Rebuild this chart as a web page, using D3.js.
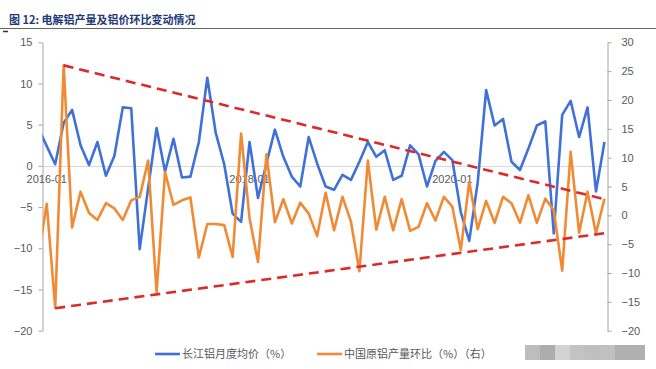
<!DOCTYPE html>
<html><head><meta charset="utf-8">
<script src="https://cdn.jsdelivr.net/npm/d3@7"></script>
<style>
html,body{margin:0;padding:0;background:#fff;}
svg{display:block;font-family:"Liberation Sans",Arial,"Noto Sans CJK SC",sans-serif;}
</style></head>
<body>
<svg id="c" width="656" height="369"></svg>
<script>
// ---- data ----
const title = "图 12: 电解铝产量及铝价环比变动情况";
const startMonth = "2015-12";
const priceMoM = [4.6,2.4,0.2,5.2,6.8,2.5,0.1,2.9,-1.2,1.2,7.1,7.0,-10.1,-2.7,4.6,-0.7,3.3,-1.4,-1.3,2.9,
  10.7,4.0,0.2,-5.8,-6.8,2.9,-3.9,0.3,4.4,1.1,-1.3,-2.5,3.5,0.3,-2.5,-2.9,-1.1,-1.7,0.5,2.9,
  1.1,1.9,-1.7,-1.2,2.5,1.4,-2.5,0.6,1.7,0.7,-5.6,-9.1,-2.0,9.2,4.9,5.7,0.5,-0.5,2.1,4.9,
  5.4,-8.2,6.2,7.9,3.5,7.1,-3.1,2.9];
const outputMoM = [-7.0,2.0,-16.0,26.0,-2.1,4.1,0.4,-0.8,2.1,1.2,-0.8,2.6,3.2,9.5,-13.3,7.5,1.8,2.6,3.1,-7.3,
  -1.5,-1.5,-1.7,-7.2,14.2,-0.5,-8.1,10.6,-1.2,2.8,-1.4,2.2,0.3,-3.6,3.9,-2.6,3.2,-1.1,-9.7,9.5,
  -2.5,3.2,-2.6,2.8,-2.7,-2.0,2.1,-0.9,3.2,1.5,-6.0,5.8,-2.4,2.5,-1.3,3.2,2.1,-1.3,3.5,-1.3,
  2.9,0.9,-9.6,11.0,-3.0,4.1,-3.1,2.9];
const xTickLabels = ["2016-01","2018-01","2020-01"];
const leftTicks = [15,10,5,0,-5,-10,-15,-20];
const rightTicks = [30,25,20,15,10,5,0,-5,-10,-15,-20];
// trend lines on right axis: [monthLabel, value]
const upperTrend = [["2016-03",26.0],["2021-07",2.8]];
const lowerTrend = [["2016-02",-16.1],["2021-07",-3.1]];
const legendNames = ["长江铝月度均价（%）","中国原铝产量环比（%）（右）"];
const watermarkShades = ["#bdbdbd","#adadad","#d3d3d3","#c3c3c3","#bfbfbf","#c0c0c0","#b0b0b0","#b0b0b0"];

const fmt = d3.timeFormat("%Y-%m");
const start = d3.timeParse("%Y-%m")(startMonth);
const months = d3.range(priceMoM.length).map(i => fmt(d3.timeMonth.offset(start, i)));

// ---- layout ----
const svg = d3.select("#c");
const plotL = 42.5, plotR = 607.5, plotT = 42.3, plotB = 330.7;
const x = d3.scalePoint().domain(months).range([38.3, 604.45]);
const yL = d3.scaleLinear().domain([-20,15]).range([plotB, plotT]);
const yR = d3.scaleLinear().domain([-20,30]).range([plotB, plotT]);

const blue = "#3f71d6", orange = "#f08a35", red = "#dc2a2a", grey = "#595959", axisGrey = "#a6a6a6";

// title
svg.append("text").attr("x", 9).attr("y", 24).attr("font-size", 11).attr("font-weight", "bold")
  .attr("font-family", "'Noto Sans CJK SC',sans-serif").attr("fill", "#1f3a78").text(title);
svg.append("line").attr("x1", 0).attr("x2", 656).attr("y1", 28.5).attr("y2", 28.5)
  .attr("stroke", "#666").attr("stroke-width", 1);
svg.append("line").attr("x1", 3).attr("x2", 8).attr("y1", 31.5).attr("y2", 31.5)
  .attr("stroke", "#333").attr("stroke-width", 1.5);

// zero gridline
svg.append("line").attr("x1", plotL).attr("x2", plotR).attr("y1", Math.round(yL(0))+0.5).attr("y2", Math.round(yL(0))+0.5)
  .attr("stroke", "#d9d9d9").attr("stroke-width", 1);

// axes
const la = svg.append("g").attr("transform", `translate(${plotL},0)`)
  .call(d3.axisLeft(yL).tickValues(leftTicks).tickSize(4).tickSizeOuter(0).tickPadding(6));
const ra = svg.append("g").attr("transform", `translate(${plotR},0)`)
  .call(d3.axisRight(yR).tickValues(rightTicks).tickSize(4).tickSizeOuter(0).tickPadding(10));
[la, ra].forEach(g => {
  g.select(".domain").attr("stroke", axisGrey);
  g.selectAll(".tick line").attr("stroke", axisGrey);
  g.selectAll(".tick text").attr("fill", grey).attr("font-size", 11)
    .attr("font-family", "'Liberation Sans',Arial,sans-serif");
});

// x tick labels
svg.append("g").selectAll("text").data(xTickLabels).join("text")
  .attr("x", d => x(d)).attr("y", yL(0) + 17).attr("text-anchor", "middle")
  .attr("font-size", 11).attr("fill", grey).attr("font-family", "'Liberation Sans',Arial,sans-serif")
  .text(d => d);

// clip
svg.append("clipPath").attr("id", "clip").append("rect")
  .attr("x", plotL).attr("y", 0).attr("width", plotR - plotL).attr("height", 369);

const plot = svg.append("g").attr("clip-path", "url(#clip)");
const lineL = d3.line().x((d, i) => x(months[i])).y(d => yL(d));
const lineR = d3.line().x((d, i) => x(months[i])).y(d => yR(d));

plot.append("path").datum(priceMoM).attr("d", lineL).attr("fill", "none")
  .attr("stroke", blue).attr("stroke-width", 2.6).attr("stroke-linejoin", "round");
plot.append("path").datum(outputMoM).attr("d", lineR).attr("fill", "none")
  .attr("stroke", orange).attr("stroke-width", 2.6).attr("stroke-linejoin", "round");

const tl = d3.line().x(d => x(d[0])).y(d => yR(d[1]));
[upperTrend, lowerTrend].forEach(t => {
  plot.append("path").datum(t).attr("d", tl).attr("fill", "none")
    .attr("stroke", red).attr("stroke-width", 2.6).attr("stroke-dasharray", "10,6");
});

// legend
const leg = svg.append("g");
const legItems = [{c: blue, x: 155, name: legendNames[0]}, {c: orange, x: 317, name: legendNames[1]}];
legItems.forEach(it => {
  leg.append("line").attr("x1", it.x).attr("x2", it.x + 25).attr("y1", 354).attr("y2", 354)
    .attr("stroke", it.c).attr("stroke-width", 2.6);
  leg.append("text").attr("x", it.x + 27).attr("y", 358).attr("font-size", 11).attr("fill", grey)
    .attr("font-family", "'Noto Sans CJK SC',sans-serif").text(it.name);
});

// blurred watermark blocks
svg.append("g").selectAll("rect").data(watermarkShades).join("rect")
  .attr("x", (d, i) => 525 + i * 15).attr("y", 345).attr("width", 15).attr("height", 15)
  .attr("fill", d => d);
</script>
</body></html>
